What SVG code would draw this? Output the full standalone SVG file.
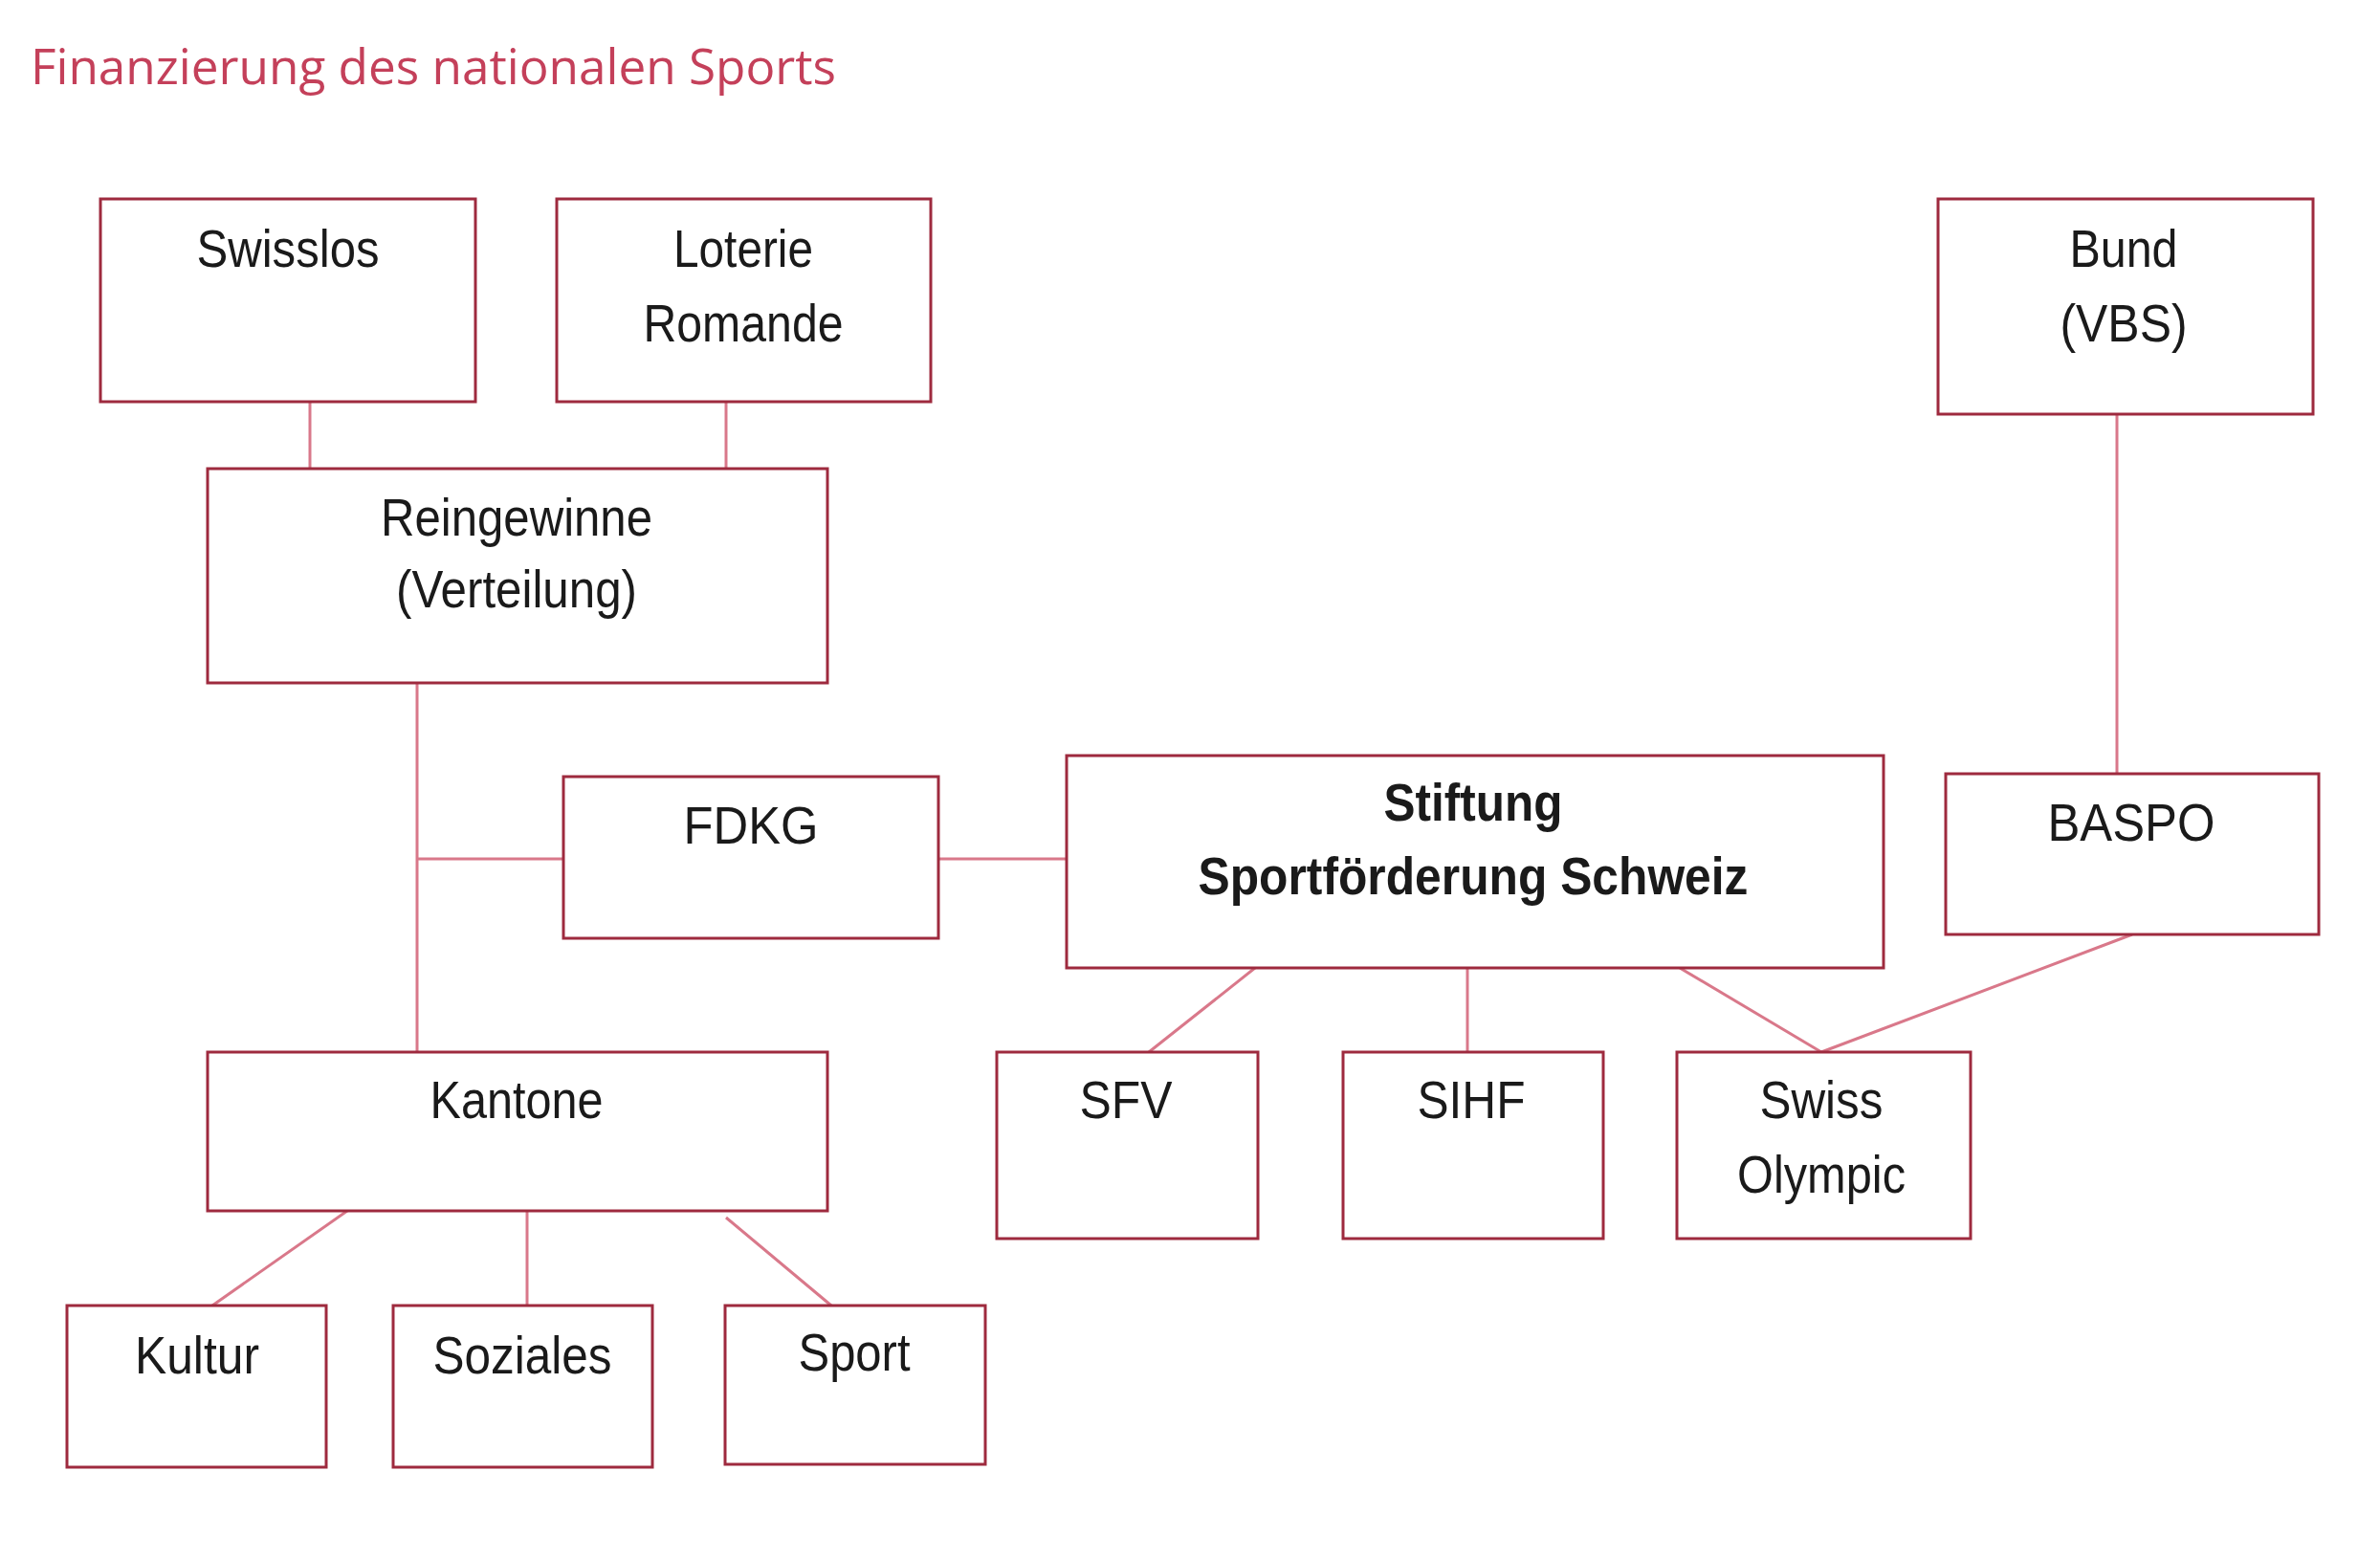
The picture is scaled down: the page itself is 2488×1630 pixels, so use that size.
<svg xmlns="http://www.w3.org/2000/svg" width="2488" height="1630" viewBox="0 0 2488 1630">
<style>
.box{fill:#ffffff;stroke:#9e2a3e;stroke-width:3}
.halo{fill:none;stroke:#f0b8c2;stroke-width:7}
.con{stroke:#d9788a;stroke-width:3;fill:none}
.t{font-family:"Liberation Sans",Arial,sans-serif;font-size:56px;fill:#1a1a1a;text-anchor:middle}
.b{font-weight:bold}
.title{font-family:"Open Sans","Noto Sans",sans-serif;font-size:52px;fill:#c4405a}
</style>
<rect width="2488" height="1630" fill="#ffffff"/>
<text class="title" x="32" y="88" textLength="842" lengthAdjust="spacingAndGlyphs">Finanzierung des nationalen Sports</text>
<g id="connectors">
<line class="con" x1="324" y1="420" x2="324" y2="490"/>
<line class="con" x1="759" y1="420" x2="759" y2="490"/>
<line class="con" x1="436" y1="714" x2="436" y2="1100"/>
<line class="con" x1="436" y1="898" x2="589" y2="898"/>
<line class="con" x1="981" y1="898" x2="1115" y2="898"/>
<line class="con" x1="2213" y1="433" x2="2213" y2="809"/>
<line class="con" x1="1312" y1="1012" x2="1201" y2="1100"/>
<line class="con" x1="1534" y1="1012" x2="1534" y2="1100"/>
<line class="con" x1="1756" y1="1012" x2="1904" y2="1100"/>
<line class="con" x1="2229" y1="977" x2="1904" y2="1100"/>
<line class="con" x1="363" y1="1266" x2="222" y2="1365"/>
<line class="con" x1="551" y1="1266" x2="551" y2="1365"/>
<line class="con" x1="759" y1="1273" x2="869" y2="1365"/>
</g>
<g id="swisslos"><rect class="box" x="105" y="208" width="392" height="212"/><text class="t" x="301" y="279" textLength="191" lengthAdjust="spacingAndGlyphs">Swisslos</text></g>
<g id="loterie"><rect class="box" x="582" y="208" width="391" height="212"/><text class="t" x="777" y="279" textLength="146" lengthAdjust="spacingAndGlyphs">Loterie</text><text class="t" x="777" y="357" textLength="209" lengthAdjust="spacingAndGlyphs">Romande</text></g>
<g id="bund"><rect class="box" x="2026" y="208" width="392" height="225"/><text class="t" x="2220" y="279" textLength="113" lengthAdjust="spacingAndGlyphs">Bund</text><text class="t" x="2220" y="357" textLength="133" lengthAdjust="spacingAndGlyphs">(VBS)</text></g>
<g id="reingewinne"><rect class="box" x="217" y="490" width="648" height="224"/><text class="t" x="540" y="560" textLength="284" lengthAdjust="spacingAndGlyphs">Reingewinne</text><text class="t" x="540" y="635" textLength="252" lengthAdjust="spacingAndGlyphs">(Verteilung)</text></g>
<g id="fdkg"><rect class="box" x="589" y="812" width="392" height="169"/><text class="t" x="785" y="882" textLength="141" lengthAdjust="spacingAndGlyphs">FDKG</text></g>
<g id="stiftung"><rect class="box" x="1115" y="790" width="854" height="222"/><text class="t b" x="1540" y="858" textLength="187" lengthAdjust="spacingAndGlyphs">Stiftung</text><text class="t b" x="1540" y="935" textLength="575" lengthAdjust="spacingAndGlyphs">Sportförderung Schweiz</text></g>
<g id="baspo"><rect class="box" x="2034" y="809" width="390" height="168"/><text class="t" x="2228" y="879" textLength="175" lengthAdjust="spacingAndGlyphs">BASPO</text></g>
<g id="kantone"><rect class="box" x="217" y="1100" width="648" height="166"/><text class="t" x="540" y="1169" textLength="181" lengthAdjust="spacingAndGlyphs">Kantone</text></g>
<g id="sfv"><rect class="box" x="1042" y="1100" width="273" height="195"/><text class="t" x="1177" y="1169" textLength="97" lengthAdjust="spacingAndGlyphs">SFV</text></g>
<g id="sihf"><rect class="box" x="1404" y="1100" width="272" height="195"/><text class="t" x="1538" y="1169" textLength="113" lengthAdjust="spacingAndGlyphs">SIHF</text></g>
<g id="swissolympic"><rect class="box" x="1753" y="1100" width="307" height="195"/><text class="t" x="1904" y="1169" textLength="129" lengthAdjust="spacingAndGlyphs">Swiss</text><text class="t" x="1904" y="1247" textLength="176" lengthAdjust="spacingAndGlyphs">Olympic</text></g>
<g id="kultur"><rect class="box" x="70" y="1365" width="271" height="169"/><text class="t" x="206" y="1436" textLength="130" lengthAdjust="spacingAndGlyphs">Kultur</text></g>
<g id="soziales"><rect class="box" x="411" y="1365" width="271" height="169"/><text class="t" x="546" y="1436" textLength="187" lengthAdjust="spacingAndGlyphs">Soziales</text></g>
<g id="sport"><rect class="box" x="758" y="1365" width="272" height="166"/><text class="t" x="893" y="1433" textLength="117" lengthAdjust="spacingAndGlyphs">Sport</text></g>
</svg>
